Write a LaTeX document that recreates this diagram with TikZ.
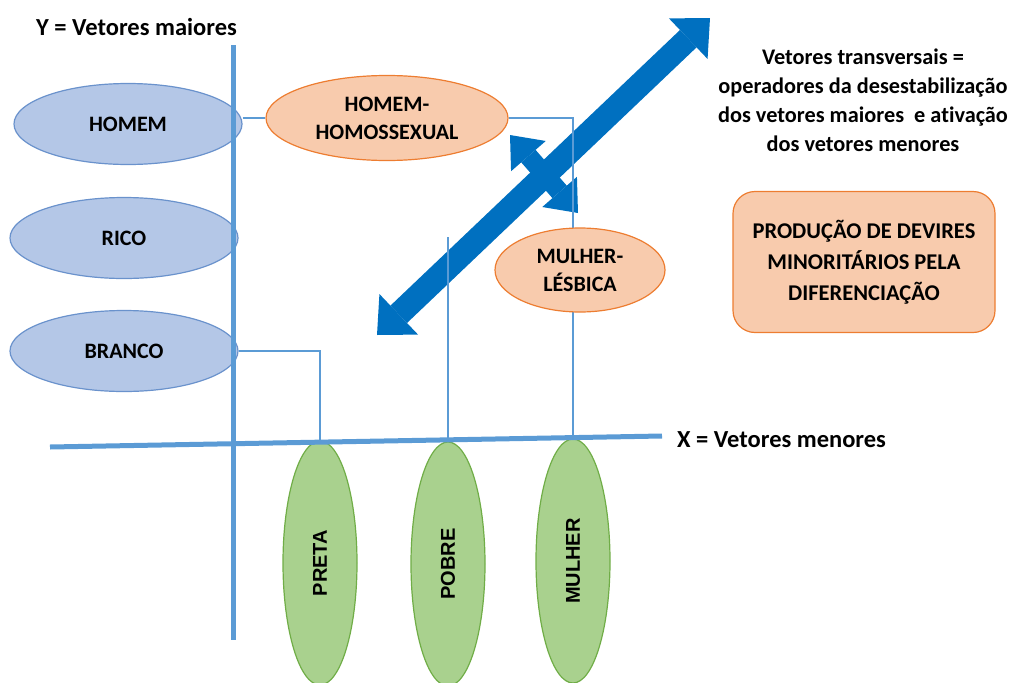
\documentclass[tikz,border=0pt]{standalone}
\usepackage{fontspec}
\setmainfont{Carlito}[Ligatures=NoCommon]
\newfontfamily\arialf{Liberation Sans}
\usetikzlibrary{arrows.meta,shapes.geometric}

\definecolor{eixoazul}{HTML}{5B9BD5}
\definecolor{setaazul}{HTML}{0070C0}
\definecolor{azulfill}{HTML}{B4C7E7}
\definecolor{azulborda}{HTML}{6A92CC}
\definecolor{laranjafill}{HTML}{F8CBAD}
\definecolor{laranjaborda}{HTML}{ED7D31}
\definecolor{verdefill}{HTML}{A9D18E}
\definecolor{verdeborda}{HTML}{70AD47}

\tikzset{
  eixo/.style={draw=eixoazul, line width=5},
  ligacao/.style={draw=eixoazul, line width=1.6},
  rotulo/.style={font=\bfseries\fontsize{24.5}{29}\selectfont, inner sep=0},
  maior/.style={ellipse, draw=azulborda, line width=1.2, fill=azulfill,
    minimum width=228, minimum height=81, inner sep=0,
    font=\bfseries\fontsize{22}{27}\selectfont},
  devir/.style={ellipse, draw=laranjaborda, line width=1.2, fill=laranjafill,
    inner sep=0, align=center, font=\bfseries\fontsize{22}{28}\selectfont},
  menor/.style={ellipse, draw=verdeborda, line width=1.2, fill=verdefill,
    minimum width=74, minimum height=244, inner sep=0,
    font=\arialf\bfseries\fontsize{20}{24}\selectfont},
  transversal/.style={draw=setaazul, line width=24,
    {Triangle[width=56,length=30,line width=0]}-{Triangle[width=56,length=30,line width=0]}}
}

\begin{document}
\begin{tikzpicture}[x=1pt,y=-1pt]
\useasboundingbox (0,0) rectangle (1013,683);
\clip (0,0) rectangle (1013,683);

% vetores maiores
\node[maior] (homem) at (128,124) {HOMEM};
\node[maior] (rico) at (124,238) {RICO};
\node[maior] (branco) at (124,351) {BRANCO};

% vetores menores
\node[menor] (preta) at (320,563) {\rotatebox{90}{PRETA}};
\node[menor] (pobre) at (448,564) {\rotatebox{90}{POBRE}};
\node[menor] (mulher) at (573,561) {\rotatebox{90}{MULHER}};

\node[devir, minimum width=242, minimum height=85] (homhomo) at (387,118) {HOMEM-\\HOMOSSEXUAL};

% vetores transversais
\draw[transversal] (377,335) -- (710,18);
\draw[transversal, line width=19,
  {Triangle[width=46,length=28,line width=0]}-{Triangle[width=46,length=28,line width=0]}]
  (510,135) -- (578,213);

% ligacoes
\coordinate (pobretopo) at (448,237);
\draw[ligacao] (homhomo.west -| homem.east) -- (homhomo.west);
\draw[ligacao] (homhomo.east) -| (mulher.north);
\draw[ligacao] (branco.east) -| (preta.north);
\draw[ligacao] (pobretopo) -- (pobre.north);

\node[devir, minimum width=170, minimum height=84] (mulherles) at (580,270) {MULHER-\\LÉSBICA};

% eixos
\draw[eixo] (233,45) -- (233,640);
\draw[eixo] (50,447) -- (662,436);
\node[rotulo, anchor=west] (ylabel) at (36,27) {Y = Vetores maiores};
\node[rotulo, anchor=west] (xlabel) at (677,440) {X = Vetores menores};

\node[align=center, font=\bfseries\fontsize{22.3}{29}\selectfont] (transtxt) at (863,100)
  {Vetores transversais =\\operadores da desestabilização\\dos vetores maiores\ \ e ativação\\dos vetores menores};

\node[draw=laranjaborda, line width=1.2, fill=laranjafill, rounded corners=22,
  minimum width=262, minimum height=141, align=center,
  font=\bfseries\fontsize{22.5}{31}\selectfont] (producao) at (864,262)
  {PRODUÇÃO DE DEVIRES\\MINORITÁRIOS PELA\\DIFERENCIAÇÃO};
\end{tikzpicture}
\end{document}
